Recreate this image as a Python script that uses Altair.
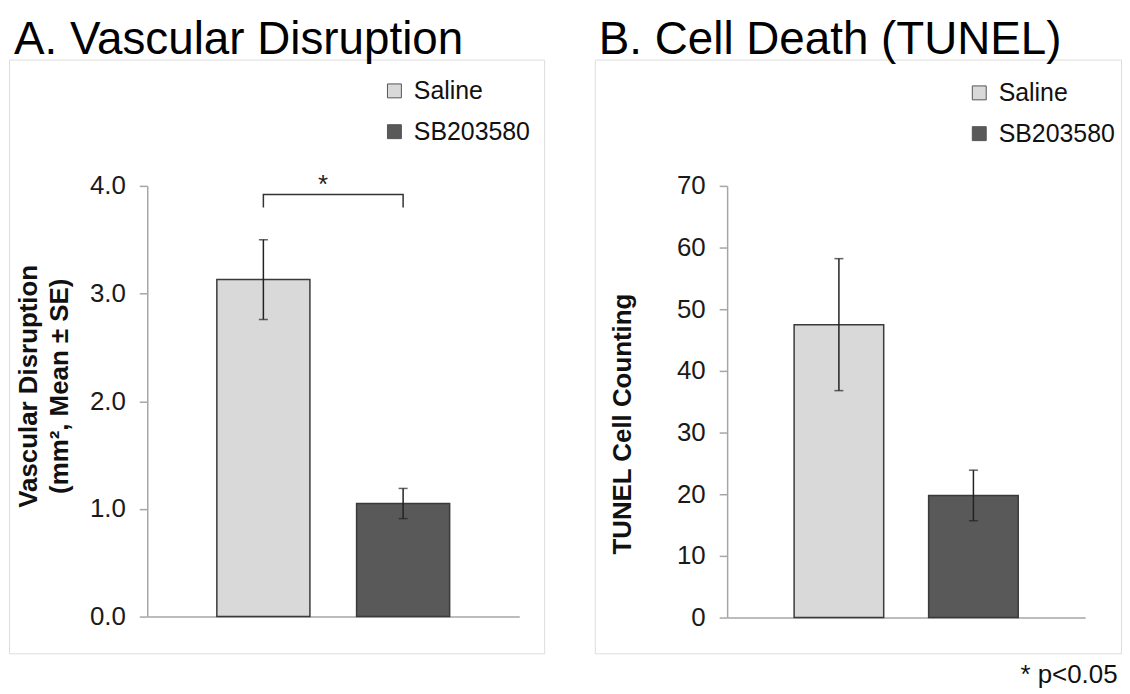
import altair as alt
import pandas as pd

FONT = "Liberation Sans"

groups = ["Saline", "SB203580"]
colors = ["#d9d9d9", "#595959"]

vasc_mean = [3.13, 1.05]
vasc_se = [0.37, 0.14]
vasc_ticks = [0, 1, 2, 3, 4]

tunel_mean = [47.5, 19.8]
tunel_se = [10.7, 4.1]
tunel_ticks = [0, 10, 20, 30, 40, 50, 60, 70]

bracket_groups = ["Saline", "Saline", "SB203580", "SB203580"]
bracket_values = [3.80, 3.92, 3.92, 3.80]
star_value = 3.92

AXIS_GRAY = "#a6a6a6"


def panel(means, ses, ticks, fmt, ytitle, title, w, h, x_range, y_range,
          axis_x, title_x, title_y, legend_x, legend_y, title_dx, extra=None):
    df = pd.DataFrame({
        "group": groups,
        "mean": means,
        "lo": [m - s for m, s in zip(means, ses)],
        "hi": [m + s for m, s in zip(means, ses)],
    })
    xenc = alt.X(
        "group:N",
        scale=alt.Scale(domain=groups, range=x_range,
                        paddingInner=0.334, paddingOuter=0.498),
        axis=alt.Axis(title=None, labels=False, ticks=False,
                      domainColor=AXIS_GRAY, domainWidth=1.5,
                      offset=y_range[0] - h),
    )
    yscale = alt.Scale(domain=[ticks[0], ticks[-1]], range=y_range,
                       nice=False, zero=True)
    yenc = alt.Y(
        "mean:Q",
        scale=yscale,
        axis=alt.Axis(
            values=ticks, format=fmt, grid=False,
            offset=-axis_x,
            domainColor=AXIS_GRAY, domainWidth=1.5,
            tickColor=AXIS_GRAY, tickWidth=1.5, tickSize=8,
            labelFont=FONT, labelFontSize=26, labelColor="#1a1a1a",
            labelPadding=14,
            title=ytitle, titleFont=FONT, titleFontSize=26,
            titleFontWeight="bold", titleColor="#111111",
            titleAngle=270, titleAlign="center", titleBaseline="middle",
            titleLineHeight=31, titleX=title_x, titleY=title_y,
        ),
    )
    base = alt.Chart(df)
    bars = base.mark_bar(stroke="#3a3a3a", strokeWidth=1.5).encode(
        x=xenc,
        y=yenc,
        fill=alt.Fill(
            "group:N",
            scale=alt.Scale(domain=groups, range=colors),
            legend=alt.Legend(
                title=None, orient="none", legendX=legend_x, legendY=legend_y,
                direction="vertical", symbolType="square", symbolSize=196,
                symbolStrokeColor="#555555", symbolStrokeWidth=1,
                labelFont=FONT, labelFontSize=25, labelColor="#111111",
                labelOffset=7, rowPadding=15, padding=0,
            ),
        ),
    )
    rule = base.mark_rule(color="#222222", strokeWidth=1.5).encode(
        x="group:N",
        y="lo:Q",
        y2="hi:Q",
    )
    cap_lo = base.mark_tick(color="#222222", thickness=1.5, size=9).encode(
        x="group:N",
        y="lo:Q",
    )
    cap_hi = base.mark_tick(color="#222222", thickness=1.5, size=9).encode(
        x="group:N",
        y="hi:Q",
    )
    layers = [bars, rule, cap_lo, cap_hi]
    if extra is not None:
        layers += extra
    return alt.layer(*layers).properties(
        width=w, height=h,
        title=alt.TitleParams(title, anchor="start", frame="group",
                              font=FONT, fontSize=46, fontWeight="normal",
                              color="#000000", dx=title_dx, offset=-4,
                              baseline="top"),
    )


bracket_df = pd.DataFrame({
    "group": bracket_groups,
    "mean": bracket_values,
    "order": list(range(len(bracket_groups))),
})
bracket = alt.Chart(bracket_df).mark_line(color="#333333", strokeWidth=1.5).encode(
    x="group:N",
    y="mean:Q",
    order="order:Q",
)
star_df = pd.DataFrame({"group": [groups[0]], "mean": [star_value], "label": ["*"]})
star = alt.Chart(star_df).mark_text(
    font=FONT, fontSize=26, color="#222222", align="center",
    baseline="alphabetic", dx=60, dy=-2,
).encode(
    x="group:N",
    y="mean:Q",
    text="label:N",
)

panel_a = panel(
    vasc_mean, vasc_se, vasc_ticks, ".1f",
    ["Vascular Disruption", "(mm², Mean ± SE)"],
    "A. Vascular Disruption",
    w=538, h=597, x_range=[139, 513], y_range=[560, 127],
    axis_x=139, title_x=-119, title_y=328,
    legend_x=375, legend_y=19, title_dx=5,
    extra=[bracket, star],
)

panel_b = panel(
    tunel_mean, tunel_se, tunel_ticks, "d",
    "TUNEL Cell Counting",
    "B. Cell Death (TUNEL)",
    w=529, h=597, x_range=[133, 493], y_range=[561, 127],
    axis_x=133, title_x=-105, title_y=366,
    legend_x=374, legend_y=21, title_dx=4,
)

chart = alt.hconcat(panel_a, panel_b, spacing=49).resolve_scale(
    fill="independent"
).resolve_legend(
    fill="independent"
).properties(
    padding={"top": 6, "left": 0, "right": 0, "bottom": 0},
    title=alt.TitleParams("* p<0.05", orient="bottom", anchor="end",
                          font=FONT, fontSize=26, fontWeight="normal",
                          color="#111111", offset=8, dx=-4, baseline="top"),
).configure_view(
    stroke="#a6a6a6", strokeWidth=1.5
).configure(
    font=FONT
)

chart.save("out.html", embed_options={"renderer": "svg", "actions": False})
